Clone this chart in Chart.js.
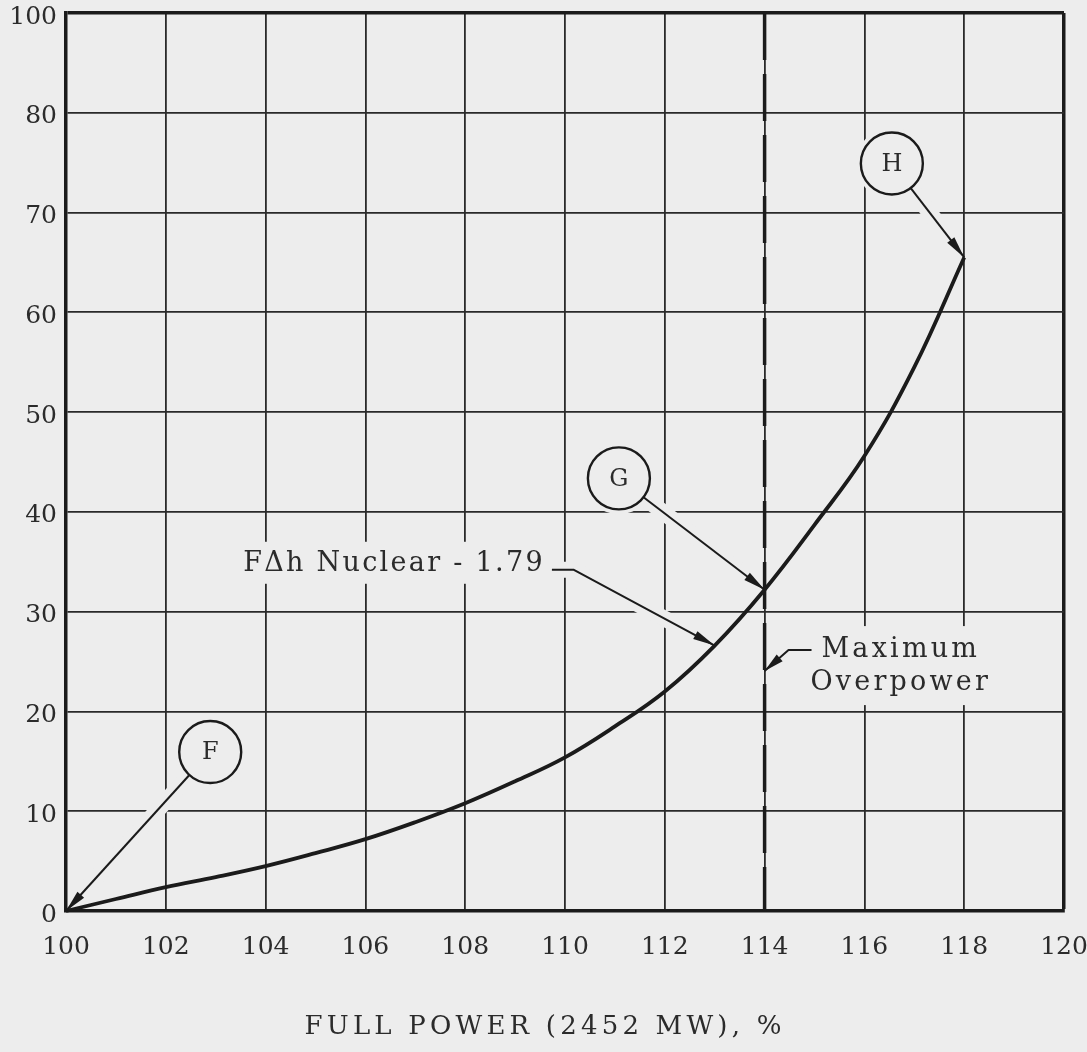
<!DOCTYPE html>
<html>
<head>
<meta charset="utf-8">
<title>Overpower curve</title>
<script src="https://cdn.jsdelivr.net/npm/chart.js@4/dist/chart.umd.min.js"></script>
<style>
  html, body { margin: 0; padding: 0; background: #ededed; }
  #wrap { width: 1087px; height: 1052px; }
</style>
</head>
<body>
<div id="wrap"><canvas id="chart" width="1087" height="1052"></canvas></div>
<script>
// ---- data ---------------------------------------------------------------
// Reactor power, % of full power (2452 MW)
const powerPct = [100, 101, 102, 103, 104, 105, 106, 107, 108, 109, 110, 111, 112, 113, 114, 115, 116, 117, 118];
// Curve for F-delta-h nuclear = 1.79
const curveValues = [0, 1.2, 2.4, 3.4, 4.5, 5.8, 7.2, 8.9, 10.8, 13.0, 15.4, 18.5, 22.0, 26.6, 32.2, 38.7, 45.6, 54.5, 65.5];
// Maximum overpower limit, % of full power
const overpowerLimit = 114;
// Vertical axis grid values and the labels printed beside them
const yTickValues = [0, 10, 20, 30, 40, 50, 60, 70, 80, 90];
const yTickLabels = ['0', '10', '20', '30', '40', '50', '60', '70', '80', '100'];
// Lettered points on the curve (index into the curve arrays)
const markerLetters = ['F', 'G', 'H'];
const markerTargets = [0, 14, 18];

const axisTitle = 'FULL POWER (2452 MW), %';
const curveNoteText = 'F\u0394h Nuclear - 1.79';
const curveNoteTarget = 13;
const limitNoteLines = ['Maximum', 'Overpower'];

// ---- annotation placement (data units) ----------------------------------
const layoutNotes = {
  circles: [ { x: 102.89, y: 15.93 }, { x: 111.08, y: 43.36 }, { x: 116.55, y: 74.92 } ],
  circleRadius: 31,
  curveNote: { x: 103.55, y: 34.8 },
  limitNote: { x: 116.73, y: 26.15, tipY: 24.05, lineGap: 33 },
  title: { x: 109.6, below: 116 }
};

// ---- styles --------------------------------------------------------------
const paper = '#ededed';
const ink = '#1b1b1b';
const textInk = '#2b2b2b';
const serif = '"DejaVu Serif", "Liberation Serif", serif';

function arrowHead(ctx, fx, fy, tx, ty, len, half) {
  const a = Math.atan2(ty - fy, tx - fx);
  const bx = tx - len * Math.cos(a), by = ty - len * Math.sin(a);
  ctx.beginPath();
  ctx.moveTo(tx, ty);
  ctx.lineTo(bx + half * Math.sin(a), by - half * Math.cos(a));
  ctx.lineTo(bx - half * Math.sin(a), by + half * Math.cos(a));
  ctx.closePath();
  ctx.fill();
}

// drop the last `cut` pixels of a polyline
function trimEnd(pts, cut) {
  const out = pts.map(p => p.slice());
  let remain = cut;
  while (out.length > 1 && remain > 0) {
    const a = out[out.length - 2], b = out[out.length - 1];
    const d = Math.hypot(b[0] - a[0], b[1] - a[1]);
    if (d > remain) {
      b[0] -= (b[0] - a[0]) * remain / d;
      b[1] -= (b[1] - a[1]) * remain / d;
      remain = 0;
    } else {
      out.pop();
      remain -= d;
    }
  }
  return out;
}

function strokePath(ctx, pts) {
  ctx.beginPath();
  ctx.moveTo(pts[0][0], pts[0][1]);
  for (let i = 1; i < pts.length; i++) ctx.lineTo(pts[i][0], pts[i][1]);
  ctx.stroke();
}

function textWidth(ctx, font, spacing, text) {
  ctx.save();
  ctx.font = font;
  ctx.letterSpacing = spacing;
  const w = ctx.measureText(text).width;
  ctx.restore();
  return w;
}

const noteFont = '27px ' + serif;
const noteSpacing = '2.3px';
const limitSpacing = '3.2px';

function geometry(chart) {
  const xs = chart.scales.x, ys = chart.scales.y, ctx = chart.ctx;
  const px = v => xs.getPixelForValue(v), py = v => ys.getPixelForValue(v);
  const R = layoutNotes.circleRadius;

  const circles = markerLetters.map((t, i) => {
    const cx = px(layoutNotes.circles[i].x), cy = py(layoutNotes.circles[i].y);
    const k = markerTargets[i];
    const tx = px(powerPct[k]), ty = py(curveValues[k]);
    const d = Math.hypot(tx - cx, ty - cy);
    return { t, cx, cy, leader: [[cx + (tx - cx) / d * R, cy + (ty - cy) / d * R], [tx, ty]] };
  });

  const nx = px(layoutNotes.curveNote.x), ny = py(layoutNotes.curveNote.y);
  const nw = textWidth(ctx, noteFont, noteSpacing, curveNoteText);
  const curveNote = {
    x: nx, y: ny, w: nw,
    leader: [[nx + nw + 7, ny + 6], [nx + nw + 29, ny + 6],
             [px(powerPct[curveNoteTarget]), py(curveValues[curveNoteTarget])]]
  };

  const ln = layoutNotes.limitNote;
  const mx = px(ln.x), my = py(ln.y);
  const widths = limitNoteLines.map(s => textWidth(ctx, noteFont, limitSpacing, s));
  const maxW = Math.max(...widths);
  const left1 = mx - widths[0] / 2;
  const limitNote = {
    x: mx, y: my, w: maxW,
    leader: [[left1 - 10, my], [left1 - 33, my], [px(overpowerLimit), py(ln.tipY)]]
  };
  return { circles, curveNote, limitNote, R };
}

const annotate = {
  id: 'annotate',
  beforeDatasetsDraw(chart) {
    const { ctx, chartArea: a } = chart;
    const g = geometry(chart);
    ctx.save();
    ctx.beginPath();
    ctx.rect(a.left + 2, a.top + 2, a.right - a.left - 4, a.bottom - a.top - 4);
    ctx.clip();
    ctx.strokeStyle = paper;
    ctx.fillStyle = paper;
    ctx.lineWidth = 16;
    const leaders = g.circles.map(c => c.leader).concat([g.curveNote.leader, g.limitNote.leader]);
    leaders.forEach(p => strokePath(ctx, trimEnd(p, 34)));
    g.circles.forEach(c => {
      ctx.beginPath();
      ctx.arc(c.cx, c.cy, g.R + 5, 0, Math.PI * 2);
      ctx.fill();
    });
    const n = g.curveNote;
    ctx.fillRect(n.x - 6, n.y - 22, n.w + 12, 42);
    const m = g.limitNote;
    ctx.fillRect(m.x - m.w / 2 - 8, m.y - 24, m.w + 16, layoutNotes.limitNote.lineGap + 46);
    ctx.restore();
  },
  afterDatasetsDraw(chart) {
    const { ctx, chartArea: a } = chart;
    const g = geometry(chart);
    ctx.save();
    ctx.strokeStyle = ink;
    ctx.fillStyle = ink;
    ctx.lineWidth = 2;
    ctx.lineJoin = 'round';

    // lettered circles and their arrows
    g.circles.forEach(c => {
      ctx.lineWidth = 2;
      strokePath(ctx, c.leader);
      const [f, t] = c.leader;
      arrowHead(ctx, f[0], f[1], t[0], t[1], 22, 4.5);
      ctx.lineWidth = 2.4;
      ctx.beginPath();
      ctx.arc(c.cx, c.cy, g.R, 0, Math.PI * 2);
      ctx.stroke();
      ctx.fillStyle = textInk;
      ctx.font = '24px ' + serif;
      ctx.textAlign = 'center';
      ctx.textBaseline = 'middle';
      ctx.fillText(c.t, c.cx, c.cy + 1);
      ctx.fillStyle = ink;
    });

    // curve label
    const n = g.curveNote;
    ctx.lineWidth = 2;
    strokePath(ctx, n.leader);
    const nl = n.leader;
    arrowHead(ctx, nl[1][0], nl[1][1], nl[2][0], nl[2][1], 22, 4.5);
    ctx.fillStyle = textInk;
    ctx.font = noteFont;
    ctx.letterSpacing = noteSpacing;
    ctx.textAlign = 'left';
    ctx.textBaseline = 'middle';
    ctx.fillText(curveNoteText, n.x, n.y);

    // overpower limit label
    const m = g.limitNote;
    ctx.fillStyle = ink;
    strokePath(ctx, m.leader);
    const ml = m.leader;
    arrowHead(ctx, ml[1][0], ml[1][1], ml[2][0], ml[2][1], 20, 4.5);
    ctx.fillStyle = textInk;
    ctx.letterSpacing = limitSpacing;
    ctx.textAlign = 'center';
    limitNoteLines.forEach((s, i) => ctx.fillText(s, m.x, m.y + i * layoutNotes.limitNote.lineGap));

    // horizontal axis title
    ctx.font = '26px ' + serif;
    ctx.letterSpacing = '4.2px';
    ctx.fillText(axisTitle, chart.scales.x.getPixelForValue(layoutNotes.title.x), a.bottom + layoutNotes.title.below);
    ctx.restore();
  }
};

const edgeWidth = 3.5;
const gridWidth = 1.8;

new Chart(document.getElementById('chart'), {
  type: 'line',
  data: {
    datasets: [
      {
        label: curveNoteText,
        data: powerPct.map((x, i) => ({ x, y: curveValues[i] })),
        borderColor: ink,
        borderWidth: 3.8,
        pointRadius: 0,
        tension: 0.4,
        clip: 6
      },
      {
        label: limitNoteLines.join(' '),
        data: [{ x: overpowerLimit, y: yTickValues[yTickValues.length - 1] }, { x: overpowerLimit, y: yTickValues[0] }],
        borderColor: ink,
        borderWidth: 3.5,
        borderDash: [47, 14],
        borderCapStyle: 'butt',
        pointRadius: 0
      }
    ]
  },
  options: {
    responsive: false,
    animation: false,
    events: [],
    layout: { padding: { top: 13, right: 23, left: 0, bottom: 0 } },
    plugins: { legend: { display: false }, tooltip: { enabled: false } },
    scales: {
      x: {
        type: 'linear',
        min: 100,
        max: 120,
        afterFit: s => { s.height = 141; s.paddingLeft = 0; s.paddingRight = 0; },
        ticks: {
          stepSize: 2,
          padding: 24,
          color: textInk,
          font: { family: serif, size: 25, lineHeight: 1 },
          maxRotation: 0
        },
        grid: {
          drawTicks: false,
          color: ctx => (ctx.tick && ctx.tick.value === 120) ? ink : '#2a2a2a',
          lineWidth: ctx => (ctx.tick && ctx.tick.value === 120) ? edgeWidth : gridWidth
        },
        border: { display: true, color: ink, width: edgeWidth }
      },
      y: {
        type: 'linear',
        min: yTickValues[0],
        max: yTickValues[yTickValues.length - 1],
        afterFit: s => { s.width = 66; s.paddingTop = 0; s.paddingBottom = 0; },
        afterBuildTicks: s => { s.ticks = yTickValues.map(v => ({ value: v })); },
        ticks: {
          padding: 9,
          labelOffset: 4,
          color: textInk,
          font: { family: serif, size: 25, lineHeight: 1 },
          callback: v => yTickLabels[yTickValues.indexOf(v)]
        },
        grid: {
          drawTicks: false,
          color: ctx => (ctx.tick && ctx.tick.value === 90) ? ink : '#2a2a2a',
          lineWidth: ctx => (ctx.tick && ctx.tick.value === 90) ? edgeWidth : gridWidth
        },
        border: { display: true, color: ink, width: edgeWidth }
      }
    }
  },
  plugins: [annotate]
});
</script>
</body>
</html>
